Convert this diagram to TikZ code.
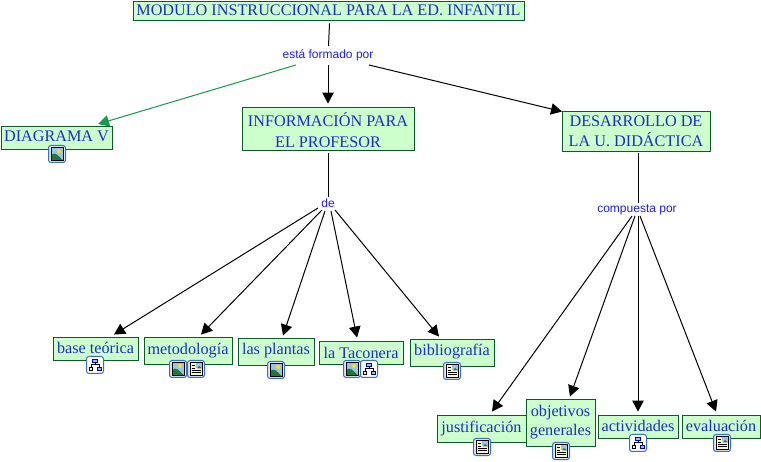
\documentclass[tikz,border=0pt]{standalone}
\usepackage{fontspec}
\setmainfont{Liberation Serif}
\setsansfont{Liberation Sans}
\usetikzlibrary{arrows.meta}
\definecolor{boxfill}{HTML}{CCFFCC}
\definecolor{boxline}{HTML}{0B5A2A}
\definecolor{boxtext}{HTML}{1A2FC4}
\definecolor{linktext}{HTML}{2020DD}
\definecolor{greenarrow}{HTML}{17994A}
\definecolor{iconline}{HTML}{3A6FC0}
\definecolor{iconsky}{HTML}{9CC4E8}
\definecolor{iconhill}{HTML}{1F7A3A}
\definecolor{iconpage}{HTML}{FFF6C8}
\newcommand{\liftby}[2]{\raisebox{#1}[\height][\depth]{#2}}
\tikzset{
  x=1pt,y=-1pt,
  concept/.style={draw=boxline,line width=0.9pt,fill=boxfill,text=boxtext,inner sep=0pt,align=center,
    font=\fontsize{16.2}{20}\selectfont,anchor=center},
  conceptbig/.style={concept,font=\fontsize{16.2}{20}\selectfont},
  linklabel/.style={text=linktext,inner sep=2pt,font=\sffamily\fontsize{12}{14}\selectfont},
  stem/.style={draw=black,line width=1pt},
  arrowline/.style={stem,-{Triangle[length=11pt,width=11.5pt]}},
  greenline/.style={draw=greenarrow,line width=1pt,-{Triangle[length=11pt,width=11.5pt]}},
  iconframe/.style={draw=iconline,line width=1pt,fill=iconsky!35,rounded corners=2.5pt},
  imageicon/.pic={
    \path[iconframe] (-8.5,-8.5) rectangle (8.5,8.5);
    \fill[iconsky] (-6,-6.5) rectangle (6,6.5);
    \fill[yellow!85!orange] (2,-3) circle (2);
    \fill[iconhill] (-6,6.5) -- (-6,1) .. controls (-2,-2) and (0,0) .. (6,6.5) -- cycle;
    \draw[black,line width=0.9pt] (-6,-6.5) rectangle (6,6.5);
  },
  docicon/.pic={
    \path[iconframe] (-8.5,-8.5) rectangle (8.5,8.5);
    \fill[iconpage] (-6,-6.5) rectangle (6,6.5);
    \fill[iconsky] (0,-6.5) rectangle (6,-0.5);
    \fill[iconhill] (1,-0.5) -- (3,-3) -- (6,-0.5) -- cycle;
    \draw[black,line width=0.9pt] (-6,-6.5) rectangle (6,6.5);
    \draw[black,line width=0.8pt] (-4.5,-3.5) -- (-1,-3.5) (-4.5,-1) -- (-1,-1) (-4.5,1.5) -- (4.5,1.5) (-4.5,3.8) -- (4.5,3.8);
  },
  mapicon/.pic={
    \path[iconframe,fill=white] (-8.5,-8.5) rectangle (8.5,8.5);
    \draw[black,line width=0.7pt] (0,-3) -- (0,-0.5) (-4,3) -- (-4,-0.5) -- (4,-0.5) -- (4,3);
    \draw[blue!70!black,fill=iconsky,line width=0.9pt] (-2.5,-6) rectangle (2.5,-3);
    \draw[black,fill=iconpage,line width=0.9pt] (-6,2.5) rectangle (-2.5,5.5);
    \draw[blue!70!black,fill=iconsky,line width=0.9pt] (2.5,2.5) rectangle (6,5.5);
  }
}
\begin{document}
\begin{tikzpicture}
\useasboundingbox (0,0) rectangle (761,462);
\fill[white] (0,0) rectangle (761,462);
% concepts
\node[conceptbig,minimum width=391pt,minimum height=19pt] (top) at (328.5,10.5) {MODULO INSTRUCCIONAL PARA LA ED. INFANTIL};
\node[conceptbig,minimum width=111pt,minimum height=23pt] (diag) at (56.5,137.5) {\liftby{1pt}{DIAGRAMA V}};
\node[conceptbig,minimum width=172pt,minimum height=43pt] (info) at (328,128.5) {\liftby{-1.5pt}{INFORMACIÓN PARA}\\\liftby{-2pt}{EL PROFESOR}};
\node[conceptbig,minimum width=148pt,minimum height=40pt] (desa) at (636,131) {DESARROLLO DE\\LA U. DIDÁCTICA};
\node[concept,minimum width=85pt,minimum height=23pt] (base) at (95.5,348.5) {\liftby{1pt}{base teórica}};
\node[concept,minimum width=88pt,minimum height=27pt] (meto) at (188,350.5) {metodología};
\node[concept,minimum width=76pt,minimum height=27pt] (plan) at (276,351.5) {\liftby{1pt}{las plantas}};
\node[concept,minimum width=84pt,minimum height=23pt] (taco) at (361,352.5) {la Taconera};
\node[concept,minimum width=84pt,minimum height=27pt] (bibl) at (452,352.5) {\liftby{1pt}{bibliografía}};
\node[concept,minimum width=89pt,minimum height=27pt] (just) at (481.5,428.5) {justificación};
\node[concept,minimum width=69pt,minimum height=47pt] (obje) at (560.5,422.5) {objetivos\\\liftby{0.5pt}{generales}};
\node[concept,minimum width=80pt,minimum height=23pt] (acti) at (638,426.5) {\liftby{1pt}{actividades}};
\node[concept,minimum width=78pt,minimum height=23pt] (eval) at (721,426.5) {\liftby{1pt}{evaluación}};
% link labels
\node[linklabel] (l1) at (328,55.5) {está formado por};
\node[linklabel] (l2) at (328,203) {de};
\node[linklabel] (l3) at (637,209.5) {compuesta por};
% connectors
\draw[stem] ([xshift=1pt,yshift=-3pt]top.south) -- ([xshift=0.5pt,yshift=1.5pt]l1.north);
\draw[arrowline] ([yshift=-2pt]l1.south) -- ([yshift=3pt]info.north);
\draw[greenline] ([xshift=-32pt,yshift=-9.5pt]l1.center) -- ([xshift=41.5pt,yshift=1.5pt]diag.north);
\draw[arrowline] ([xshift=41pt,yshift=-9.5pt]l1.center) -- ([xshift=-74pt,yshift=-1pt]desa.north);
\draw[stem] ([yshift=-3pt]info.south) -- ([yshift=-1pt]l2.north);
\draw[arrowline] ([xshift=-10pt,yshift=-5pt]l2.center) -- ([xshift=18.5pt,yshift=2pt]base.north);
\draw[arrowline] ([xshift=-6pt,yshift=-7pt]l2.center) -- ([xshift=13pt,yshift=2pt]meto.north);
\draw[arrowline] ([xshift=-3pt,yshift=-8pt]l2.center) -- ([xshift=7pt,yshift=2pt]plan.north);
\draw[arrowline] ([xshift=3pt,yshift=-8pt]l2.center) -- ([xshift=-4pt,yshift=3pt]taco.north);
\draw[arrowline] ([xshift=7pt,yshift=-7pt]l2.center) -- ([xshift=-13pt,yshift=2pt]bibl.north);
\draw[stem] ([xshift=2pt,yshift=-2pt]desa.south) -- ([xshift=1pt,yshift=-1pt]l3.north);
\draw[arrowline] ([xshift=-5pt,yshift=-6.5pt]l3.center) -- ([xshift=10.5pt,yshift=3pt]just.north);
\draw[arrowline] ([xshift=-2pt,yshift=-6.5pt]l3.center) -- ([xshift=9.5pt,yshift=2pt]obje.north);
\draw[arrowline] ([xshift=1pt,yshift=-6.5pt]l3.center) -- ([yshift=3pt]acti.north);
\draw[arrowline] ([xshift=3pt,yshift=-6.5pt]l3.center) -- ([xshift=-5pt,yshift=3pt]eval.north);
% icons
\pic at (57,154) {imageicon};
\pic at (95,365) {mapicon};
\pic at (178,369) {imageicon};
\pic at (196,369) {docicon};
\pic at (276,370) {imageicon};
\pic at (352,369) {imageicon};
\pic at (369,369) {mapicon};
\pic at (452,371) {docicon};
\pic at (482,447) {docicon};
\pic at (561,451) {docicon};
\pic at (638,443) {mapicon};
\pic at (722,443) {docicon};
\end{tikzpicture}
\end{document}
